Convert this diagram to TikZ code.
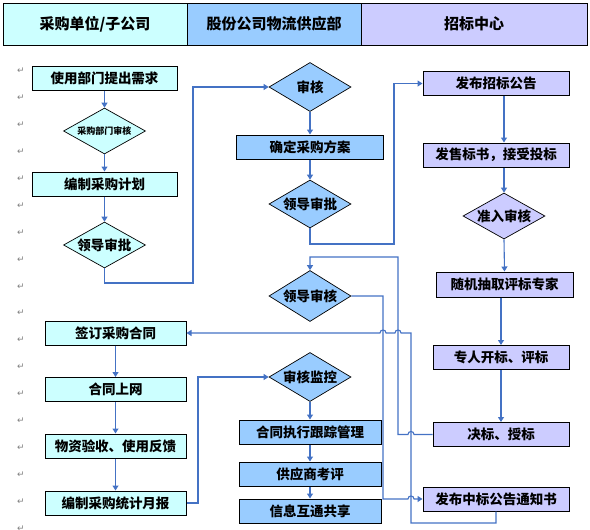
\documentclass[tikz,border=0pt]{standalone}
\usepackage{fontspec}
\setmainfont{Noto Sans CJK SC}
\newfontfamily\markfont{DejaVu Sans}
\usetikzlibrary{shapes.geometric,arrows.meta}
\definecolor{unitcol}{HTML}{CCFFFF}
\definecolor{supcol}{HTML}{99CCFF}
\definecolor{bidcol}{HTML}{CCCCFF}
\definecolor{flowblue}{HTML}{4472C4}

\begin{document}
\begin{tikzpicture}[x=1pt,y=-1pt,
  hdr/.style={draw=black,line width=0.8pt,inner sep=0pt,minimum height=42pt,font=\fontsize{15}{15}\selectfont\bfseries},
  box/.style={draw=black,line width=1pt,inner sep=0pt,minimum height=24pt,font=\fontsize{13.5}{13.5}\selectfont\bfseries},
  dia/.style={diamond,aspect=1.7,draw=black,line width=0.7pt,inner sep=0pt,minimum width=82pt,minimum height=48pt,font=\fontsize{13.5}{13.5}\selectfont\bfseries},
  flow/.style={flowblue,line width=1.1pt,-{Triangle[length=5pt,width=6pt]}}]
\useasboundingbox (0,0) rectangle (590,530);

% header
\node[hdr,fill=unitcol,minimum width=184pt] (unit) at (95,24) {采购单位/子公司};
\node[hdr,fill=supcol,minimum width=174pt] (supply) at (274,24) {股份公司物流供应部};
\node[hdr,fill=bidcol,minimum width=226pt] (bidding) at (474,24) {招标中心};

% return marks
\foreach \k in {0,...,17}
  \node[text=gray,font=\markfont\fontsize{9}{9}\selectfont] (ret\k) at (21,{71+26.9*\k}) {↵};

% purchasing unit
\node[box,fill=unitcol,minimum width=145pt] (need) at (104.5,78) {使用部门提出需求};
\node[dia,fill=unitcol,minimum height=46pt,font=\fontsize{9}{9}\selectfont\bfseries] (deptchk) at (104.5,131) {采购部门审核};
\node[box,fill=unitcol,minimum width=145pt] (plan) at (104.5,184) {编制采购计划};
\node[dia,fill=unitcol,minimum height=46pt] (lead1) at (104.5,245) {领导审批};

\node[box,fill=unitcol,minimum width=141pt] (sign) at (115.5,333) {签订采购合同};
\node[box,fill=unitcol,minimum width=141pt] (online) at (115.5,389.5) {合同上网};
\node[box,fill=unitcol,minimum width=141pt] (accept) at (115.5,446) {物资验收、使用反馈};
\node[box,fill=unitcol,minimum width=141pt] (report) at (115.5,503) {编制采购统计月报};

% supply department
\node[dia,fill=supcol,minimum height=49pt] (chk) at (310,87) {审核};
\node[box,fill=supcol,minimum width=147pt] (scheme) at (310,147) {确定采购方案};
\node[dia,fill=supcol] (lead2) at (310,204) {领导审批};
\node[dia,fill=supcol,minimum height=51pt] (lead3) at (310,296) {领导审核};
\node[dia,fill=supcol,minimum height=49pt] (monitor) at (310,377) {审核监控};
\node[box,fill=supcol,minimum width=142pt] (track) at (310,432) {合同执行跟踪管理};
\node[box,fill=supcol,minimum width=142pt] (rate) at (310,474) {供应商考评};
\node[box,fill=supcol,minimum width=142pt] (share) at (310,511) {信息互通共享};

% bidding centre
\node[box,fill=bidcol,minimum width=146pt] (notice) at (496,83.5) {发布招标公告};
\node[box,fill=bidcol,minimum width=146pt] (sell) at (496,155) {发售标书，接受投标};
\node[dia,fill=bidcol,minimum height=46pt] (admit) at (504,216) {准入审核};
\node[box,fill=bidcol,minimum width=137pt,minimum height=25pt] (expert) at (504.5,284.5) {随机抽取评标专家};
\node[box,fill=bidcol,minimum width=136pt] (open) at (501,357.5) {专人开标、评标};
\node[box,fill=bidcol,minimum width=136pt] (award) at (501,434.5) {决标、授标};
\node[box,fill=bidcol,minimum width=146pt] (winner) at (496,499) {发布中标公告通知书};

% straight arrows
\draw[flow] (need) -- (deptchk);
\draw[flow] (deptchk) -- (plan);
\draw[flow] (plan) -- (lead1);
\draw[flow] (chk) -- (scheme);
\draw[flow] (scheme) -- (lead2);
\coordinate (rx) at (504,0);
\draw[flow] (notice.south -| rx) -- (sell.north -| rx);
\draw[flow] (sell.south -| rx) -- (admit.north);
\draw[flow] (admit.south) -- (expert.north);
\draw[flow] (expert.south -| open) -- (open.north);
\draw[flow] (open) -- (award);
\draw[flow] (sign) -- (online);
\draw[flow] (online) -- (accept);
\draw[flow] (accept) -- (report);
\draw[flow] (monitor) -- (track);
\draw[flow] (track) -- (rate);
\draw[flow] (rate) -- (share);

% bent arrows
\coordinate (b1) at (193,283);
\draw[flow] (lead1.south) |- (b1) |- (chk.west);
\coordinate (b2) at (394,244);
\draw[flow] (lead2.south) |- (b2) |- (notice.west);
\draw[flow] (award.west) -- (414,434.5) .. controls +(0,-4) and +(0,-4) .. (408,434.5)
  -- (398,434.5) -- (398,257) -| (lead3.north);
\draw[flow] (lead3.east) -- (383,296) -- (383,499) -- (408,499)
  .. controls +(0,-4) and +(0,-4) .. (414,499) -- (winner.west);
\draw[flow] (winner.south) -- (496,523) -- (411,523) -- (411,333) -- (401,333)
  .. controls +(0,-4) and +(0,-4) .. (395,333) -- (386,333)
  .. controls +(0,-4) and +(0,-4) .. (380,333) -- (sign.east);
\coordinate (b3) at (198,503);
\draw[flow] (report.east) -- (b3) |- (monitor.west);
\end{tikzpicture}
\end{document}
